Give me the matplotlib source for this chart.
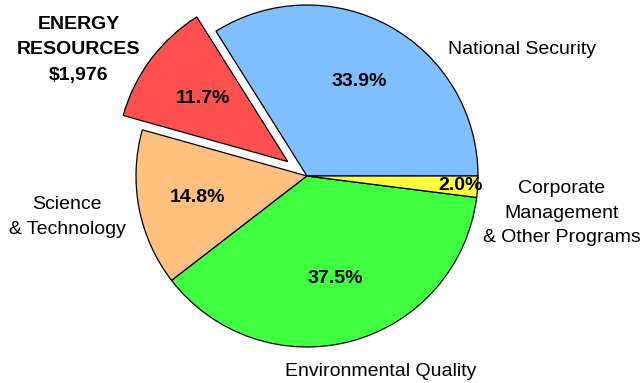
import matplotlib
matplotlib.use("Agg")
import matplotlib.pyplot as plt
import numpy as np

# Budget shares by program area (percent of total)
categories = ["National Security", "Energy Resources", "Science & Technology",
              "Environmental Quality", "Corporate Management & Other Programs"]
shares = [33.9, 11.7, 14.8, 37.5, 2.0]
energy_resources_amount = "$1,976"

colors = ["#80BFFF", "#FF5050", "#FFC080", "#40FF40", "#FFFF40"]
explode_frac = [0, 0.14, 0, 0, 0]
pct_dist = [0.63, 0.62, 0.65, 0.62, 0.9]

plt.rcParams["font.family"] = ["Liberation Sans", "DejaVu Sans"]

W, H = 644, 383
fig = plt.figure(figsize=(W / 100, H / 100), dpi=100)
ax = fig.add_axes([0, 0, 1, 1])


def fy(y):
    # top-down pixel row -> axis y
    return H - y


cx, cy, R = 307, fy(176), 171
wedges, _ = ax.pie(shares, colors=colors, explode=[e * R for e in explode_frac],
                   startangle=0, counterclock=True, center=(cx, cy), radius=R,
                   wedgeprops=dict(edgecolor="black", linewidth=0.9))

for w, v, d in zip(wedges, shares, pct_dist):
    ang = np.deg2rad((w.theta1 + w.theta2) / 2)
    ox, oy = w.center
    ax.text(ox + d * R * np.cos(ang), oy + d * R * np.sin(ang), f"{v:.1f}%",
            ha="center", va="center", fontsize=14, fontweight="bold")

ax.text(522, fy(50), "National Security", ha="center", va="center", fontsize=14)
ax.text(79, fy(50), f"ENERGY\nRESOURCES\n{energy_resources_amount}",
        ha="center", va="center", fontsize=14, fontweight="bold", linespacing=1.63)
ax.text(67, fy(217), "Science\n& Technology", ha="center", va="center",
        fontsize=14, linespacing=1.63)
ax.text(562, fy(213), "Corporate\nManagement\n& Other Programs", ha="center",
        va="center", fontsize=14, linespacing=1.6)
ax.text(381, fy(372), "Environmental Quality", ha="center", va="center", fontsize=14)

ax.set_xlim(0, W)
ax.set_ylim(0, H)
ax.set_aspect("auto")
ax.axis("off")

fig.savefig("out.png", dpi=100)
